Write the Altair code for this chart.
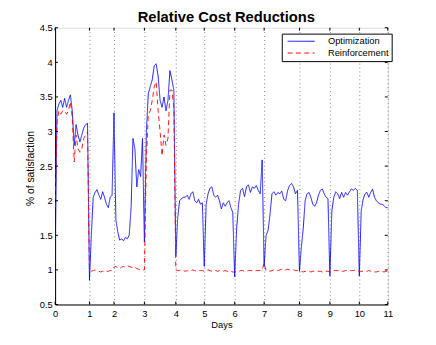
import altair as alt
import pandas as pd

# samples per day (irregular day lengths on the x axis)
day_samples = [35, 25, 31, 32, 29, 31, 30, 36, 31, 30, 29]
day_labels = ["0", "1", "2", "3", "4", "5", "6", "7", "8", "9", "10", "11"]
y_ticks = [0.5, 1, 1.5, 2, 2.5, 3, 3.5, 4, 4.5]
series_names = ["Optimization", "Reinforcement"]
chart_title = "Relative Cost Reductions"

opt_day0 = [1.15, 3.3, 3.4, 3.45, 3.35, 3.48, 3.35, 3.45, 3.53, 3.3, 2.8, 3.1, 2.95, 2.85, 2.95, 3.05, 3.1, 3.12]
opt_day1 = [0.85, 1.5, 2.05, 2.12, 2.16, 2.08, 2.02, 2.13, 2.05, 1.95, 1.9, 2.05, 2.08]
opt_day2 = [3.27, 1.72, 1.55, 1.43, 1.45, 1.42, 1.47, 1.45, 1.5, 1.9, 2.9, 2.75, 2.2, 2.45, 2.35, 2.9]
opt_day3 = [1.4, 3.0, 3.55, 3.65, 3.75, 3.95, 3.98, 3.8, 3.45, 3.35, 3.5, 3.3, 3.45, 3.88, 3.75, 3.6]
opt_day4 = [1.2, 1.75, 2.0, 2.03, 2.05, 2.05, 2.08, 2.02, 2.1, 2.13, 2.0, 1.97, 2.02, 1.95, 1.97]
opt_day5 = [1.05, 1.95, 2.1, 2.18, 2.2, 2.08, 2.05, 2.08, 2.0, 1.88, 1.97, 1.92, 1.97, 2.0, 1.9, 1.83]
opt_day6 = [0.9, 1.6, 1.95, 2.15, 2.18, 2.06, 2.2, 2.23, 2.12, 2.2, 2.18, 2.22, 2.15, 2.1, 2.59]
opt_day7 = [1.05, 1.5, 1.57, 1.8, 2.1, 2.13, 2.08, 2.12, 2.1, 2.14, 2.02, 2.0, 2.15, 2.22, 2.25, 2.2, 2.1, 2.15]
opt_day8 = [0.98, 1.33, 1.6, 2.0, 2.1, 2.12, 2.05, 1.95, 1.92, 1.97, 2.08, 2.15, 2.17, 2.1, 2.05, 2.03]
opt_day9 = [0.91, 1.85, 2.05, 2.13, 2.1, 2.03, 2.12, 2.05, 2.12, 2.08, 2.13, 2.17, 2.15, 2.18, 2.15]
opt_day10 = [0.91, 1.85, 2.02, 2.1, 2.12, 2.05, 2.12, 2.17, 2.05, 2.0, 1.97, 1.95, 1.95, 1.93, 1.9, 1.9]

rein_day0 = [1.9, 3.15, 3.3, 3.25, 3.3, 3.3, 3.25, 3.3, 3.43, 3.2, 2.56, 2.95, 2.75, 2.7, 2.75, 2.9, 2.95, 3.0]
rein_day1 = [1.0, 0.98, 0.99, 1.0, 0.99, 0.98, 0.97, 0.98, 0.97, 0.98, 0.98, 0.99, 0.99]
rein_day2 = [1.04, 1.05, 1.03, 1.02, 1.04, 1.05, 1.04, 1.06, 1.05, 1.04, 1.03, 1.04, 1.02, 1.01, 1.0, 1.0]
rein_day3 = [1.0, 2.6, 3.25, 3.3, 3.45, 3.65, 3.72, 3.3, 3.0, 2.65, 2.95, 2.8, 2.9, 3.6, 3.6, 3.35]
rein_day4 = [1.0, 0.99, 0.99, 1.0, 0.99, 0.98, 0.99, 0.98, 0.99, 1.0, 0.99, 0.98, 0.99, 0.99, 0.99]
rein_day5 = [0.98, 0.99, 1.0, 0.99, 0.98, 0.98, 0.99, 0.98, 0.99, 0.98, 0.98, 0.99, 0.98, 0.98, 0.98, 0.97]
rein_day6 = [0.97, 0.98, 0.98, 0.99, 0.99, 0.98, 0.98, 0.99, 0.99, 0.99, 0.98, 0.99, 0.99, 0.99, 1.0]
rein_day7 = [1.1, 0.99, 0.99, 0.98, 0.99, 1.0, 1.0, 0.99, 1.0, 1.01, 1.0, 1.0, 1.01, 1.0, 1.0, 1.0, 0.99, 0.99]
rein_day8 = [0.98, 0.98, 0.97, 0.98, 0.98, 0.98, 0.97, 0.98, 0.98, 0.98, 0.98, 0.98, 0.97, 0.98, 0.98, 0.98]
rein_day9 = [0.97, 0.98, 0.99, 0.99, 0.99, 0.99, 0.98, 0.98, 0.99, 0.99, 0.99, 0.99, 0.99, 1.0, 0.99]
rein_day10 = [0.98, 0.98, 0.98, 0.98, 0.98, 0.99, 0.98, 0.98, 0.97, 0.97, 0.98, 0.98, 0.98, 0.97, 0.98, 0.98]

opt_days = [opt_day0, opt_day1, opt_day2, opt_day3, opt_day4, opt_day5,
            opt_day6, opt_day7, opt_day8, opt_day9, opt_day10]
rein_days = [rein_day0, rein_day1, rein_day2, rein_day3, rein_day4, rein_day5,
             rein_day6, rein_day7, rein_day8, rein_day9, rein_day10]

boundaries = [0]
for n in day_samples:
    boundaries.append(boundaries[-1] + n)
total = boundaries[-1]

rows = []
order = 0
for name, days in zip(series_names, [opt_days, rein_days]):
    for d, vals in enumerate(days):
        n = len(vals)
        last = d == len(days) - 1
        step = day_samples[d] / ((n - 1) if last else n)
        for i, v in enumerate(vals):
            rows.append({"series": name, "sample": boundaries[d] + i * step, "value": v, "k": order})
            order += 1
df = pd.DataFrame(rows)

label_expr = "[" + ",".join("'%s'" % s for s in day_labels) + "][indexof([" + \
    ",".join(str(b) for b in boundaries) + "], datum.value)]"

FONT = "Liberation Sans"
W, H = 339, 282

leg = alt.Legend(
    title=None, orient="none", legendX=231, legendY=6,
    strokeColor="black", fillColor="white", padding=3,
    labelFontSize=9.5, labelFont=FONT, labelColor="black",
    symbolType="M-3.45,0H3.45", symbolSize=64, symbolStrokeWidth=1,
    symbolOffset=12, labelOffset=22.5, rowPadding=1,
)

xscale = alt.Scale(domain=[0, total], nice=False, zero=False)
yscale = alt.Scale(domain=[0.5, 4.5], nice=False, zero=False)

x_axis = alt.Axis(
    values=boundaries, labelExpr=label_expr, grid=True, gridDash=[1, 3],
    gridColor="#666", gridWidth=0.8, tickSize=0, domainColor="black",
    labelOverlap=False, labelFlush=False, labelBound=False,
    labelFontSize=9.5, labelFont=FONT, labelColor="black", labelPadding=4,
    title="Days", titleFontSize=9.5, titleFont=FONT, titleFontWeight="normal",
    titleColor="black", titleY=23, titleBaseline="alphabetic")
y_axis = alt.Axis(
    values=y_ticks, format=".1~f", grid=False, tickSize=0, domainColor="black",
    labelOverlap=False, labelFlush=False, labelBound=False,
    labelFontSize=9.5, labelFont=FONT, labelColor="black", labelPadding=3,
    title="% of satisfaction", titleFontSize=10.5, titleFont=FONT,
    titleFontWeight="normal", titleColor="black", titleX=-25, titleY=143,
    titleAngle=270, titleAlign="center", titleBaseline="middle")

lines = alt.Chart(df).mark_line(strokeWidth=0.9, clip=True).encode(
    x=alt.X("sample:Q", scale=xscale, axis=x_axis),
    y=alt.Y("value:Q", scale=yscale, axis=y_axis),
    color=alt.Color("series:N", scale=alt.Scale(domain=series_names, range=["#0000ff", "#ff0000"]), legend=leg),
    strokeDash=alt.StrokeDash("series:N", scale=alt.Scale(domain=series_names, range=[[1, 0], [5, 3.5]]), legend=leg),
    order="k:Q",
)

ydf = pd.DataFrame({"v": y_ticks})
xdf = pd.DataFrame({"b": boundaries})

ytick_l = alt.Chart(ydf).mark_rule(color="black", strokeWidth=1).encode(
    y=alt.Y("v:Q", scale=yscale, axis=y_axis), x=alt.value(0), x2=alt.value(3))
ytick_r = alt.Chart(ydf).mark_rule(color="black", strokeWidth=1).encode(
    y=alt.Y("v:Q", scale=yscale, axis=y_axis), x=alt.value(W - 3), x2=alt.value(W))
xtick_b = alt.Chart(xdf).mark_rule(color="black", strokeWidth=1).encode(
    x=alt.X("b:Q", scale=xscale, axis=x_axis), y=alt.value(H - 3), y2=alt.value(H))
xtick_t = alt.Chart(xdf).mark_rule(color="black", strokeWidth=1).encode(
    x=alt.X("b:Q", scale=xscale, axis=x_axis), y=alt.value(0), y2=alt.value(3))

title_df = pd.DataFrame({"t": [chart_title]})
title_mark = alt.Chart(title_df).mark_text(
    font=FONT, fontSize=15, fontWeight="bold", color="black",
    align="center", baseline="alphabetic").encode(
    text="t:N", x=alt.value(W / 2 + 5), y=alt.value(-6))

chart = alt.layer(lines, ytick_l, ytick_r, xtick_b, xtick_t, title_mark).properties(
    width=W, height=H,
    autosize=alt.AutoSizeParams(type="none"),
    padding={"left": 48, "top": 17, "right": 41, "bottom": 30},
).configure_view(stroke="#777", strokeWidth=1.2).configure(background="white")

chart.save("out.html", embed_options={"renderer": "svg", "actions": False})
